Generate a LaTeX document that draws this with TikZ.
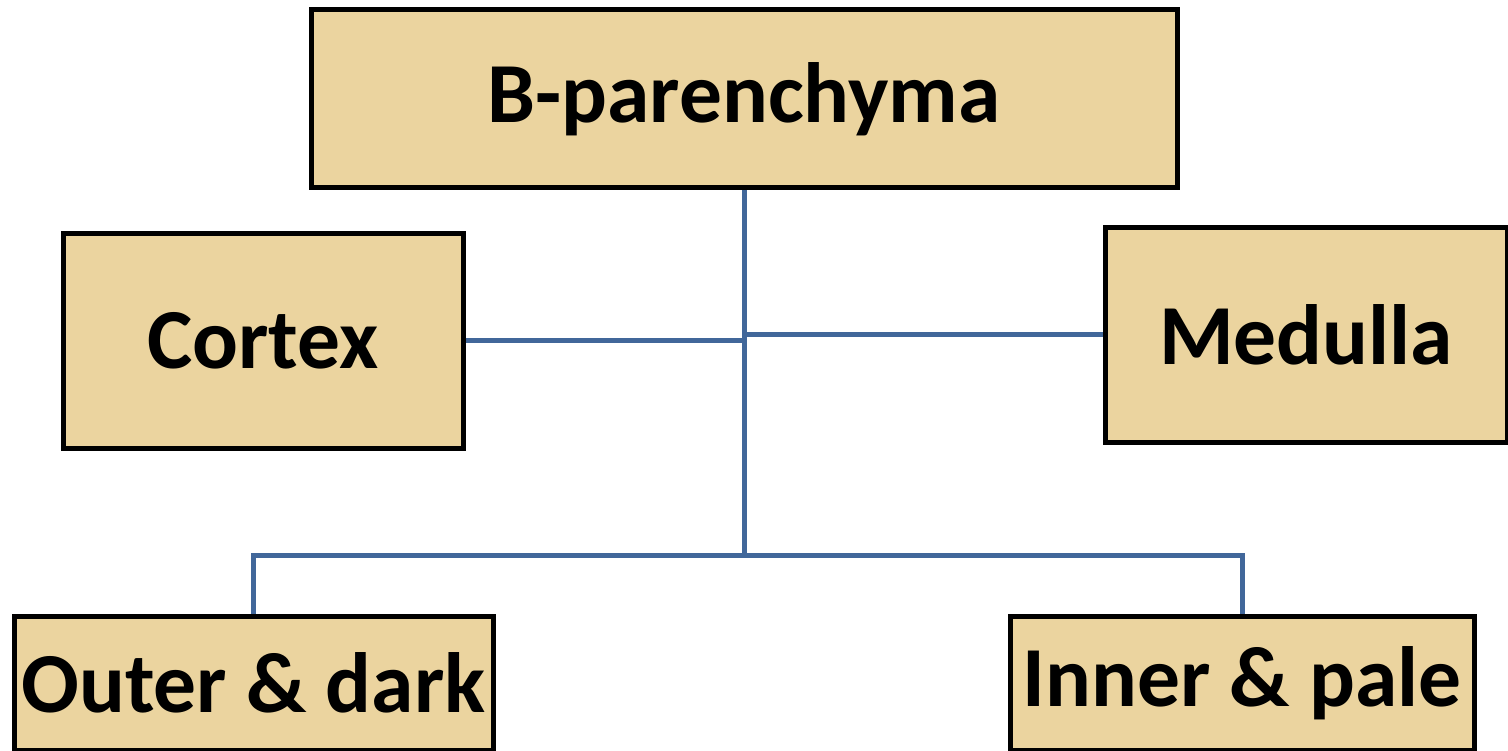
\documentclass[tikz,border=0pt]{standalone}
\usepackage{fontspec}
\setmainfont{Carlito}
\definecolor{papyrus}{HTML}{EBD49F}
\definecolor{linkblue}{HTML}{41679A}
\begin{document}
\begin{tikzpicture}[x=1pt,y=-1pt,
  box/.style={draw=black,line width=5pt,fill=papyrus,rectangle,inner sep=0pt,
    font=\bfseries\fontsize{85.5}{95}\selectfont,text=black},
  link/.style={draw=linkblue,line width=5pt}]
\useasboundingbox (0,0) rectangle (1508,751);
\node[box,minimum width=866pt,minimum height=178pt] (b) at (744,99) {B-parenchyma};
\node[box,minimum width=400pt,minimum height=214pt] (cortex) at (263,341) {Cortex};
\node[box,minimum width=402pt,minimum height=214pt] (medulla) at (1306,335) {Medulla};
\node[box,minimum width=479pt,minimum height=134pt] (outer) at (253.5,683) {Outer \& dark};
\node[box,minimum width=464pt,minimum height=134pt] (inner) at (1242,683) {Inner \& pale};
\coordinate (junc) at (744,555);
\draw[link] (b.south) -- (junc);
\draw[link] (cortex.east) -- (cortex.east -| b.south);
\draw[link] (medulla.west) -- (medulla.west -| b.south);
\draw[link] (outer.north) |- (junc) -| (inner.north);
\end{tikzpicture}
\end{document}
